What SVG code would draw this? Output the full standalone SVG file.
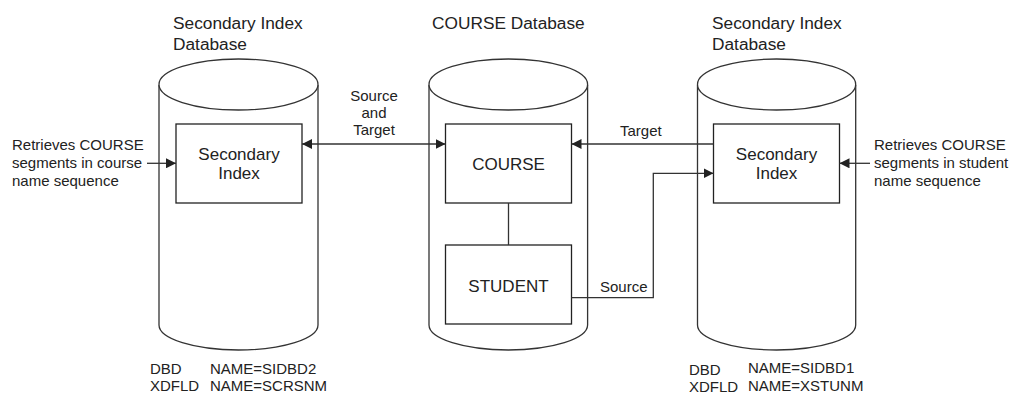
<svg xmlns="http://www.w3.org/2000/svg" width="1011" height="394" viewBox="0 0 1011 394">
<style>
text{font-family:"Liberation Sans",Arial,sans-serif;fill:#222}
.t{font-size:17.3px}
.b{font-size:17px;text-anchor:middle}
.s{font-size:15px}
.c{text-anchor:middle}
.cyl{fill:#fff;stroke:#333;stroke-width:1.3}
.box{fill:#fff;stroke:#222;stroke-width:1.3}
.ln{fill:none;stroke:#333;stroke-width:1.3}
</style>
<defs>
<marker id="ah" viewBox="0 0 10 10" refX="10" refY="5" markerWidth="10" markerHeight="10" markerUnits="userSpaceOnUse" orient="auto-start-reverse">
<path d="M0,0 L10,5 L0,10 Z" fill="#222"/>
</marker>
</defs>

<g id="left-db">
<path class="cyl" d="M159,85 L159,325 A79.5,25 0 0 0 318,325 L318,85"/>
<ellipse class="cyl" cx="238.5" cy="84.5" rx="79.5" ry="25.5"/>
<text class="t" x="173" y="29">Secondary Index</text>
<text class="t" x="173" y="50">Database</text>
<text class="s" x="150" y="374">DBD</text>
<text class="s" x="210" y="374">NAME=SIDBD2</text>
<text class="s" x="150" y="391">XDFLD</text>
<text class="s" x="210" y="391">NAME=SCRSNM</text>
</g>
<g id="left-index">
<rect class="box" x="176" y="124" width="126" height="79"/>
<text class="b" x="239" y="159.5">Secondary</text>
<text class="b" x="239" y="179">Index</text>
</g>

<g id="course-db">
<path class="cyl" d="M429,85 L429,325 A79.3,25 0 0 0 587.6,325 L587.6,85"/>
<ellipse class="cyl" cx="508.3" cy="84.5" rx="79.3" ry="25.5"/>
<text class="t" x="432" y="29">COURSE Database</text>
</g>
<g id="course">
<rect class="box" x="445.5" y="124" width="126" height="79"/>
<text class="b" x="508.5" y="170">COURSE</text>
</g>
<g id="student">
<rect class="box" x="445.5" y="245" width="126" height="79"/>
<text class="b" x="508.5" y="292">STUDENT</text>
</g>

<g id="right-db">
<path class="cyl" d="M697.5,85 L697.5,325 A79.1,25 0 0 0 855.7,325 L855.7,85"/>
<ellipse class="cyl" cx="776.6" cy="84.5" rx="79.1" ry="25.5"/>
<text class="t" x="712" y="29">Secondary Index</text>
<text class="t" x="712" y="50">Database</text>
<text class="s" x="689" y="375">DBD</text>
<text class="s" x="748" y="373">NAME=SIDBD1</text>
<text class="s" x="689" y="392">XDFLD</text>
<text class="s" x="748" y="391">NAME=XSTUNM</text>
</g>
<g id="right-index">
<rect class="box" x="713.5" y="124" width="126" height="79"/>
<text class="b" x="776.5" y="159.5">Secondary</text>
<text class="b" x="776.5" y="179">Index</text>
</g>

<g id="connectors">
<line class="ln" x1="147" y1="163.3" x2="176" y2="163.3" marker-end="url(#ah)"/>
<line class="ln" x1="302" y1="144" x2="445.5" y2="144" marker-start="url(#ah)" marker-end="url(#ah)"/>
<line class="ln" x1="508.5" y1="203" x2="508.5" y2="245"/>
<line class="ln" x1="713.5" y1="144" x2="571.5" y2="144" marker-end="url(#ah)"/>
<polyline class="ln" points="571.5,297.7 653.3,297.7 653.3,173.3 713.5,173.3" marker-end="url(#ah)"/>
<line class="ln" x1="870" y1="163.3" x2="839.5" y2="163.3" marker-end="url(#ah)"/>
<text class="s" x="12" y="150">Retrieves COURSE</text>
<text class="s" x="12" y="168">segments in course</text>
<text class="s" x="12" y="186">name sequence</text>
<text class="s" x="874" y="150">Retrieves COURSE</text>
<text class="s" x="874" y="168">segments in student</text>
<text class="s" x="874" y="186">name sequence</text>
<text class="s c" x="374" y="101">Source</text>
<text class="s c" x="374" y="118">and</text>
<text class="s c" x="374" y="135">Target</text>
<text class="s" x="620" y="136">Target</text>
<text class="s" x="600" y="292">Source</text>
</g>
</svg>
